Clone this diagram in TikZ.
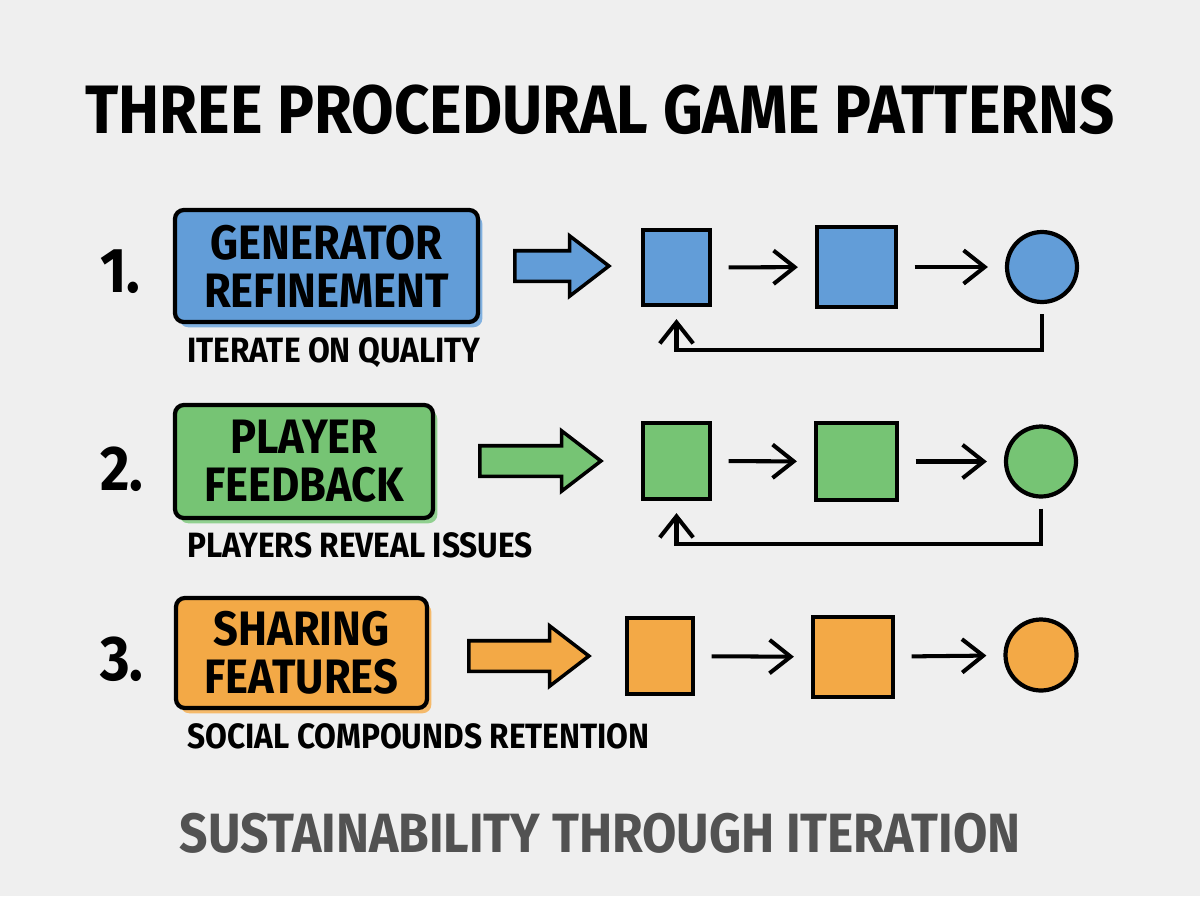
\documentclass[tikz,border=0pt]{standalone}
\usepackage{fontspec}
\setmainfont{Fira Sans}[FakeStretch=0.9]
\usetikzlibrary{arrows.meta, positioning, calc, shapes.arrows, shadows}

\definecolor{bggray}{RGB}{239,239,239}
\definecolor{patblue}{RGB}{98,157,216}
\definecolor{patgreen}{RGB}{118,196,116}
\definecolor{patorange}{RGB}{243,169,70}
\definecolor{footgray}{RGB}{82,82,82}

\begin{document}
\begin{tikzpicture}[x=0.02cm, y=-0.02cm,
  namebox/.style={draw=black, line width=2.4pt, rounded corners=5pt, fill=#1,
    general shadow={fill=#1!80, shadow xshift=2.5pt, shadow yshift=-3pt},
    align=center, font=\bfseries\fontsize{27.5}{27.5}\selectfont, inner sep=0pt},
  numlabel/.style={anchor=base west, inner sep=0pt, font=\bfseries\fontsize{36}{36}\selectfont},
  sublabel/.style={anchor=base west, inner sep=0pt, font=\bfseries\fontsize{20}{20}\selectfont},
  bigarrow/.style={single arrow, draw=black, line width=2pt, fill=#1, inner sep=0pt,
    inner ysep=0.27cm, single arrow head extend=0.3cm, single arrow tip angle=75},
  stepsq/.style={draw=black, line width=2.4pt, fill=#1, inner sep=0pt},
  endcirc/.style={circle, draw=black, line width=2.4pt, fill=#1, minimum size=1.4cm, inner sep=0pt},
  flow/.style={line width=2.3pt, -{Straight Barb[length=12pt, width=19pt]},
    shorten <=0.33cm, shorten >=0.34cm},
  loopback/.style={line width=2.3pt, -{Straight Barb[length=12pt, width=19pt]},
    shorten <=0.2cm, shorten >=0.24cm},
]
  % Background
  \fill[bggray] (0,0) rectangle (1200,896);

  \node[anchor=base, font=\bfseries\fontsize{39}{39}\selectfont] (title) at (600,133) {THREE PROCEDURAL GAME PATTERNS};

  % Pattern 1
  \node[numlabel] (n1) at (100,292) {1.};
  \node[namebox=patblue, minimum width=6.06cm, minimum height=2.24cm] (gen) at (326.5,266) {GENERATOR\\REFINEMENT};
  \node[sublabel] (gensub) at (187,362) {ITERATE ON QUALITY};
  \node[bigarrow=patblue, minimum height=1.88cm] (genarr) at (552,266) {};
  \node[stepsq=patblue, minimum width=1.34cm, minimum height=1.5cm] (g1) at (676.5,267.5) {};
  \node[stepsq=patblue, minimum width=1.58cm, minimum height=1.6cm] (g2) at (856.5,267) {};
  \node[endcirc=patblue] (g3) at (1042,267) {};
  \draw[flow] (g1) -- (g2);
  \draw[flow] (g2) -- (g3);
  \draw[loopback] (g3.south) -- ++(0,46) -| (g1.south);

  % Pattern 2
  \node[numlabel] (n2) at (100,490) {2.};
  \node[namebox=patgreen, minimum width=5.16cm, minimum height=2.26cm] (play) at (304,461.5) {PLAYER\\FEEDBACK};
  \node[sublabel] (playsub) at (187,557) {PLAYERS REVEAL ISSUES};
  \node[bigarrow=patgreen, minimum height=2.42cm] (playarr) at (530.5,461) {};
  \node[stepsq=patgreen, minimum width=1.34cm, minimum height=1.52cm] (p1) at (676.5,461) {};
  \node[stepsq=patgreen, minimum width=1.62cm, minimum height=1.54cm] (p2) at (856.5,461.5) {};
  \node[endcirc=patgreen] (p3) at (1041,461.5) {};
  \draw[flow] (p1) -- (p2);
  \draw[flow] (p2) -- (p3);
  \draw[loopback] (p3.south) -- ++(0,45) -| (p1.south);

  % Pattern 3
  \node[numlabel] (n3) at (100,680) {3.};
  \node[namebox=patorange, minimum width=5.02cm, minimum height=2.2cm] (share) at (301.5,653) {SHARING\\FEATURES};
  \node[sublabel] (sharesub) at (187,748) {SOCIAL COMPOUNDS RETENTION};
  \node[bigarrow=patorange, minimum height=2.4cm] (sharearr) at (519,656) {};
  \node[stepsq=patorange, minimum width=1.32cm, minimum height=1.52cm] (s1) at (660,656) {};
  \node[stepsq=patorange, minimum width=1.6cm, minimum height=1.6cm] (s2) at (853,657) {};
  \node[endcirc=patorange, minimum size=1.42cm] (s3) at (1041,655) {};
  \draw[flow] (s1) -- (s2);
  \draw[flow] (s2) -- (s3);

  \node[anchor=base, text=footgray, font=\bfseries\fontsize{31.5}{31.5}\selectfont] (foot) at (600,852) {SUSTAINABILITY THROUGH ITERATION};
\end{tikzpicture}
\end{document}
